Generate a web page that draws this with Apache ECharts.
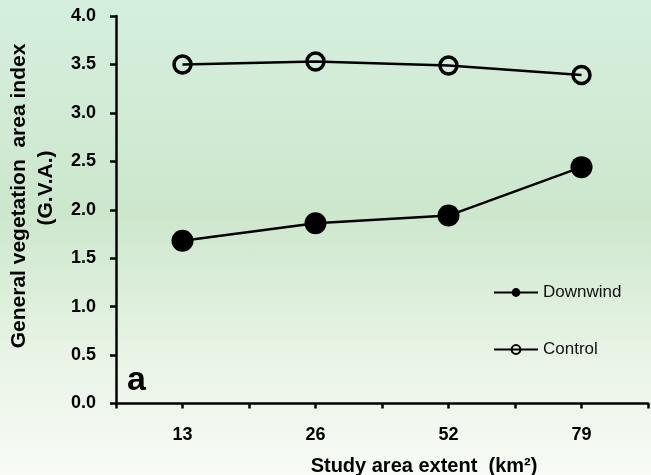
<!DOCTYPE html>
<html>
<head>
<meta charset="utf-8">
<script src="https://cdn.jsdelivr.net/npm/echarts@6/dist/echarts.min.js"></script>
<style>
html,body{margin:0;padding:0;}
#c{width:651px;height:475px;background:linear-gradient(to bottom,#d5efdf 0%,#cde7cd 45%,#e9f4e6 75%,#f8fbf6 100%);}
</style>
</head>
<body>
<div id="c"></div>
<script>
var categories = ['13', '26', '52', '79'];
var downwind = [1.68, 1.86, 1.94, 2.44];
var control = [3.50, 3.53, 3.49, 3.39];
var yTicks = ['0.0','0.5','1.0','1.5','2.0','2.5','3.0','3.5','4.0'];

function pairs(vals){ return vals.map(function(v,i){ return [i+1, v]; }); }

var chart = echarts.init(document.getElementById('c'), null, {renderer:'canvas'});
var font = 'Liberation Sans, Arial, sans-serif';
chart.setOption({
  animation:false,
  backgroundColor:'transparent',
  grid:{left:116, top:16, bottom:71.5, right:-3, containLabel:false},
  xAxis:{
    type:'value', min:0.5, max:4.5, interval:0.5,
    axisLine:{show:true, lineStyle:{color:'#000', width:2.5}},
    axisTick:{show:true, length:5, lineStyle:{color:'#000', width:2.5}},
    splitLine:{show:false},
    axisLabel:{
      margin:23, color:'#000', fontFamily:font, fontWeight:'bold', fontSize:18,
      formatter:function(v){ var i=Math.round(v); return (Math.abs(v-i)<1e-6 && i>=1 && i<=categories.length) ? categories[i-1] : ''; }
    }
  },
  yAxis:{
    type:'value', min:0, max:4, interval:0.5,
    axisLine:{show:true, lineStyle:{color:'#000', width:2.5}},
    axisTick:{show:true, length:6, lineStyle:{color:'#000', width:2.5}},
    splitLine:{show:false},
    axisLabel:{
      margin:20, color:'#000', fontFamily:font, fontWeight:'bold', fontSize:18,
      formatter:function(v){ return yTicks[Math.round(v/0.5)]; }
    }
  },
  legend:{
    orient:'vertical', left:488, top:279, itemWidth:44, itemHeight:11, itemGap:40,
    textStyle:{fontFamily:font, fontSize:17, color:'#111'},
    data:['Downwind','Control']
  },
  series:[
    {
      name:'Downwind', type:'line', data:pairs(downwind),
      symbol:'circle', symbolSize:22,
      lineStyle:{color:'#000', width:2.5},
      itemStyle:{color:'#000', borderColor:'#000', borderWidth:0}
    },
    {
      name:'Control', type:'line', data:pairs(control),
      symbol:'circle', symbolSize:17,
      lineStyle:{color:'#000', width:2.5},
      itemStyle:{color:'rgba(0,0,0,0)', borderColor:'#000', borderWidth:3.5}
    }
  ],
  graphic:[
    {type:'text', rotation:Math.PI/2, x:19, y:196,
     style:{text:'General vegetation  area index', font:'bold 21px '+font, fill:'#000', align:'center', verticalAlign:'middle'}},
    {type:'text', rotation:Math.PI/2, x:46, y:188,
     style:{text:'(G.V.A.)', font:'bold 21px '+font, fill:'#000', align:'center', verticalAlign:'middle'}},
    {type:'text', x:424, y:466,
     style:{text:'Study area extent  (km²)', font:'bold 20px '+font, fill:'#000', align:'center', verticalAlign:'middle'}},
    {type:'text', x:127, y:381,
     style:{text:'a', font:'bold 34px '+font, fill:'#000', align:'left', verticalAlign:'middle'}}
  ]
});
</script>
</body>
</html>
